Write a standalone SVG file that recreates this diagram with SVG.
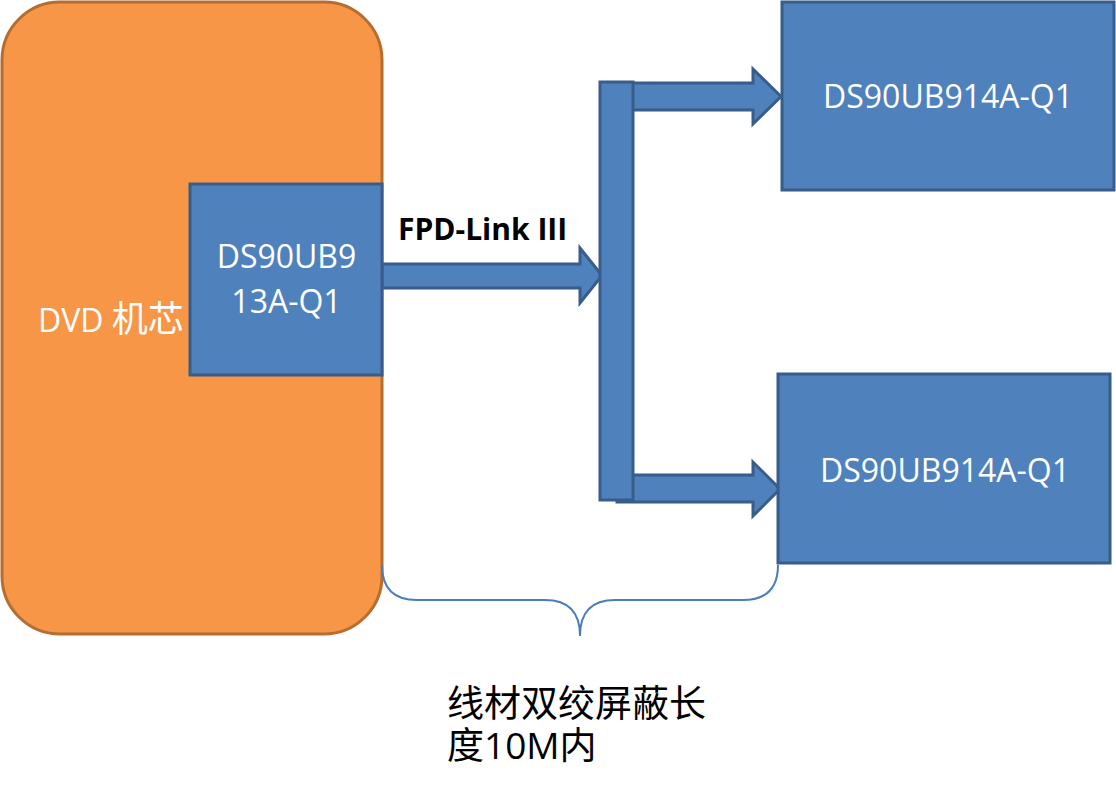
<svg xmlns="http://www.w3.org/2000/svg" width="1116" height="792" viewBox="0 0 1116 792">
<style>
.blue{fill:#4F81BD;stroke:#385D8A;stroke-width:3;stroke-linejoin:miter}
.orange{fill:#F79646;stroke:#B66D31;stroke-width:3}
.wt{font-family:"Open Sans","Noto Sans CJK SC",sans-serif;font-size:32px;fill:#FFFFFF}
.lbl{font-family:"Open Sans","Noto Sans CJK SC",sans-serif;font-size:30px;font-weight:bold;fill:#000000}
.cjk{font-family:"Open Sans","Noto Sans CJK SC",sans-serif;font-size:37px;fill:#000000}
.brace{fill:none;stroke:#4A7EBB;stroke-width:2}
</style>
<rect width="1116" height="792" fill="#FFFFFF"/>
<g id="dvd">
<rect class="orange" x="2" y="2" width="380" height="632" rx="58" ry="58"/>
<text class="wt" x="38" y="332">DVD <tspan font-size="36">机芯</tspan></text>
</g>
<g id="connectors">
<polygon class="blue" points="382,264 580,264 580,248 602,275.5 580,303 580,288 382,288"/>
<polygon class="blue" points="617,83 753,83 753,69 781,96.5 753,124 753,110 617,110"/>
<polygon class="blue" points="617,475 753,475 753,462 780,489 753,516 753,502 617,502"/>
<rect class="blue" x="600" y="82" width="33" height="418"/>
<path class="brace" d="M382,565 Q382,600 417,600 L545,600 Q580,600 580,636 Q580,600 615,600 L743,600 Q778,600 778,565"/>
</g>
<g id="ser">
<rect class="blue" x="190" y="184" width="192" height="191"/>
<text class="wt" text-anchor="middle"><tspan x="286.5" y="268">DS90UB9</tspan><tspan x="286.5" y="313">13A-Q1</tspan></text>
</g>
<g id="des1">
<rect class="blue" x="782" y="2" width="332" height="188"/>
<text class="wt" x="948" y="108" text-anchor="middle">DS90UB914A-Q1</text>
</g>
<g id="des2">
<rect class="blue" x="778" y="374" width="332" height="189"/>
<text class="wt" x="945" y="482" text-anchor="middle">DS90UB914A-Q1</text>
</g>
<g id="link-label">
<text class="lbl" x="398" y="240">FPD-Link III</text>
</g>
<g id="cable-label">
<text class="cjk"><tspan x="447" y="717">线材双绞屏蔽长</tspan><tspan x="447" y="759">度10M内</tspan></text>
</g>
</svg>
